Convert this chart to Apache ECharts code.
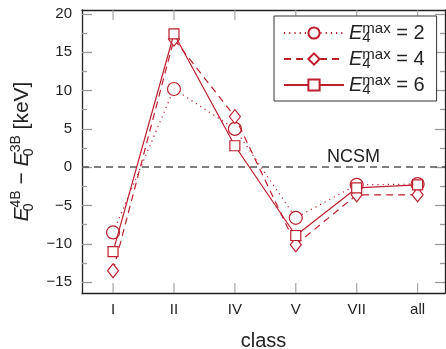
<!DOCTYPE html>
<html>
<head>
<meta charset="utf-8">
<script src="https://cdn.jsdelivr.net/npm/echarts@6/dist/echarts.min.js"></script>
<style>
html, body { margin: 0; padding: 0; background: #fff; }
#chart { width: 446px; height: 349px; }
</style>
</head>
<body>
<div id="chart"></div>
<script>
// classes on the x axis
var classes = ['I', 'II', 'IV', 'V', 'VII', 'all'];
// E0(4B) - E0(3B) in keV, one list per E4max
var e4max2 = [-8.5, 10.2, 5.0, -6.6, -2.3, -2.2];
var e4max4 = [-13.5, 16.7, 6.6, -10.1, -3.6, -3.6];
var e4max6 = [-11.0, 17.4, 2.8, -8.9, -2.7, -2.3];
var seriesNames = ['2', '4', '6'];
// tick positions
var classTicks = [0, 1, 2, 3, 4, 5];
var majorTicks = [-15, -10, -5, 0, 5, 10, 15, 20];
var minorTicks = [-12.5, -7.5, -2.5, 2.5, 7.5, 12.5, 17.5];

var yMin = -16.4, yMax = 20.5;
var red = '#be1e2d';
var font = 'Liberation Sans, Arial, sans-serif';

var chart = echarts.init(document.getElementById('chart'));

var minus = function (v) {
	return String(v).replace('-', '\u2212');
};

// pair each value with the index of its class
var toPoints = function (vals) {
	return vals.map(function (v, i) { return [i, v]; });
};

var tickStyle = { color: '#999', width: 1.3 };
var frameLine = function () {
	return { show: true, onZero: false, lineStyle: { color: '#222', width: 1.3 } };
};
var noLine = function () {
	return { show: false, onZero: false };
};

var xAxisOf = function (pos, withLabel) {
	var ax = {
		type: 'value',
		min: -0.51,
		max: 5.45,
		position: pos,
		splitLine: { show: false },
		axisLine: frameLine(),
		axisTick: { show: false },
		axisLabel: { show: false }
	};
	if (withLabel) {
		ax.axisLabel = {
			customValues: classTicks, fontFamily: font, fontSize: 15, color: '#222', margin: 9,
			formatter: function (v) { return classes[Math.round(v)]; }
		};
		ax.name = 'class';
		ax.nameLocation = 'middle';
		ax.nameGap = 38;
		ax.nameTextStyle = { fontFamily: font, fontSize: 20, color: '#222' };
	}
	return ax;
};

var yAxisOf = function (pos, withLine, ticks, len) {
	return {
		type: 'value',
		min: yMin,
		max: yMax,
		position: pos,
		splitLine: { show: false },
		axisLine: withLine ? frameLine() : noLine(),
		axisTick: { show: true, inside: true, length: len, customValues: ticks, lineStyle: tickStyle },
		axisLabel: { show: false }
	};
};

var yMain = yAxisOf('left', true, majorTicks, 10);
yMain.axisLabel = {
	customValues: majorTicks, fontFamily: font, fontSize: 15, color: '#222', margin: 10,
	formatter: minus
};
yMain.name = '{e|E}{sub|0}{sup|4B}{t| \u2212 }{e|E}{sub|0}{sup|3B}{t| [keV]}';
yMain.nameLocation = 'middle';
yMain.nameRotate = 90;
yMain.nameGap = 46;
yMain.nameTextStyle = {
	color: '#222',
	rich: {
		e: { fontFamily: font, fontStyle: 'italic', fontSize: 21, lineHeight: 27, color: '#222' },
		sub: { fontFamily: font, fontSize: 14, width: 0, verticalAlign: 'bottom', color: '#222' },
		sup: { fontFamily: font, fontSize: 14, verticalAlign: 'top', color: '#222' },
		t: { fontFamily: font, fontSize: 21, lineHeight: 27, color: '#222' }
	}
};

// x tick marks on the bottom and top frame, drawn as thin rect symbols
var tickSeries = function (yVal, offsetY) {
	return {
		type: 'scatter',
		silent: true,
		clip: false,
		data: classTicks.map(function (c) { return [c, yVal]; }),
		symbol: 'rect',
		symbolSize: [1.3, 10],
		symbolOffset: [0, offsetY],
		itemStyle: { color: '#999' },
		emphasis: { disabled: true },
		tooltip: { show: false },
		z: 1
	};
};

var option = {
	animation: false,
	grid: {
		left: 82, right: 1, top: 10, bottom: 56,
		show: false,
		containLabel: false,
		outerBoundsMode: 'none'
	},
	legend: {
		orient: 'vertical',
		left: 274, top: 16,
		padding: [5, 12, 4, 9],
		itemGap: 2,
		itemWidth: 60,
		itemHeight: 14,
		borderColor: '#333',
		borderWidth: 1,
		backgroundColor: '#fff',
		data: seriesNames,
		formatter: function (name) {
			return '{e|E}{sub|4}{sup|max}{t| = ' + name + '}';
		},
		textStyle: {
			fontFamily: font,
			color: '#222',
			rich: {
				e: { fontFamily: font, fontStyle: 'italic', fontSize: 20, lineHeight: 24 },
				sub: { fontFamily: font, fontSize: 15, width: 0, verticalAlign: 'bottom' },
				sup: { fontFamily: font, fontSize: 15, verticalAlign: 'top' },
				t: { fontFamily: font, fontSize: 20, lineHeight: 24 }
			}
		}
	},
	graphic: [{
		type: 'text', left: 327, top: 148,
		style: { text: 'NCSM', fontFamily: font, fontSize: 18, fill: '#222' }
	}],
	xAxis: [
		xAxisOf('bottom', true),
		xAxisOf('top', false)
	],
	yAxis: [
		yMain,
		yAxisOf('left', false, minorTicks, 5),
		yAxisOf('right', true, majorTicks, 10),
		yAxisOf('right', false, minorTicks, 5)
	],
	series: [{
		name: seriesNames[0],
		type: 'line',
		data: toPoints(e4max2),
		symbol: 'circle',
		symbolSize: 13,
		itemStyle: { color: '#fff', borderColor: red, borderWidth: 1.2 },
		lineStyle: { color: red, width: 1.2, type: [1.2, 4] },
		markLine: {
			silent: true,
			symbol: 'none',
			label: { show: false },
			lineStyle: { color: '#555', width: 1.5, type: [7, 5] },
			data: [{ yAxis: 0 }]
		},
		z: 3
	}, {
		name: seriesNames[1],
		type: 'line',
		data: toPoints(e4max4),
		symbol: 'diamond',
		symbolSize: [11, 14],
		itemStyle: { color: '#fff', borderColor: red, borderWidth: 1.2 },
		lineStyle: { color: red, width: 1.2, type: [7, 5] },
		z: 4
	}, {
		name: seriesNames[2],
		type: 'line',
		data: toPoints(e4max6),
		symbol: 'rect',
		symbolSize: 10,
		itemStyle: { color: '#fff', borderColor: red, borderWidth: 1.2 },
		lineStyle: { color: red, width: 1.2 },
		z: 5
	},
	tickSeries(yMin, -5),
	tickSeries(yMax, 5)
	]
};

chart.setOption(option);
</script>
</body>
</html>
